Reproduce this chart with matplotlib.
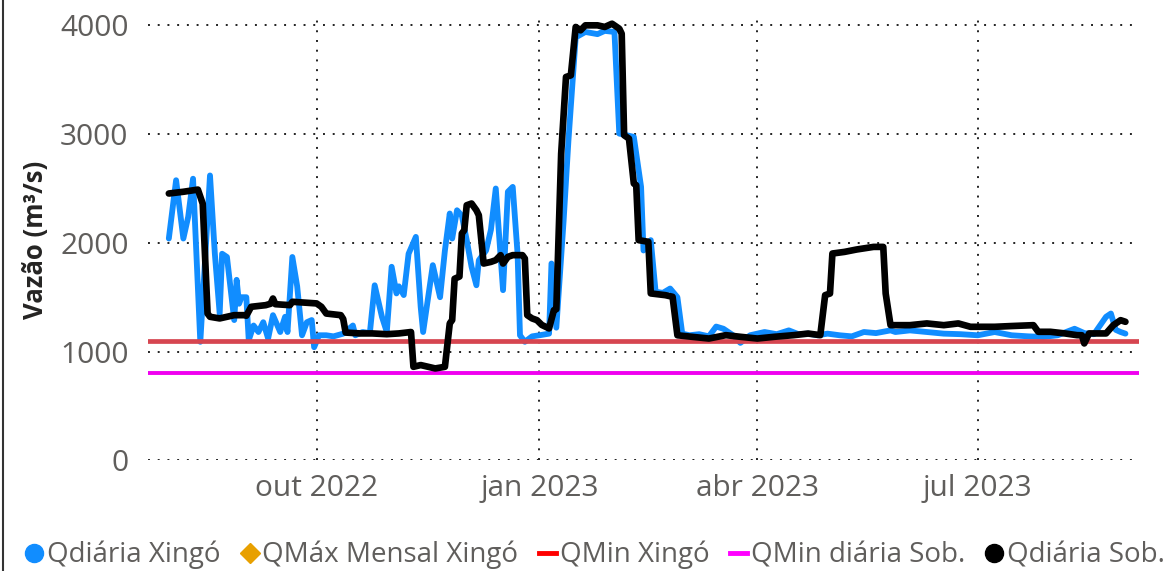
import pandas as pd
import matplotlib.pyplot as plt
from matplotlib.lines import Line2D

plt.rcParams['font.family'] = ['Open Sans', 'DejaVu Sans']

# data, days counted from 2022-08-01
start = pd.Timestamp('2022-08-01')

blue_days = [0, 3, 6, 8, 10, 13, 17, 19, 21, 22,
             24, 27, 28, 29, 30, 32, 33, 35, 37, 39,
             41, 43, 46, 48, 49, 51, 53, 55, 57, 59,
             60, 62, 65, 68, 72, 76, 77, 80, 83, 85,
             88, 90, 92, 94, 95, 97, 99, 102, 104, 105,
             109, 112, 114, 116, 117, 119, 121, 123, 125, 127,
             128, 131, 133, 135, 138, 140, 142, 144, 145, 147,
             150, 153, 157, 158, 160, 163, 165, 168, 172, 177,
             180, 184, 186, 192, 195, 196, 199, 201, 204, 207,
             210, 212, 215, 219, 223, 226, 229, 233, 236, 240,
             246, 251, 256, 260, 264, 268, 272, 277, 282, 287,
             292, 298, 300, 306, 313, 320, 327, 334, 341, 348,
             355, 361, 367, 374, 378, 382, 387, 389, 391, 393,
             395]
blue_vals = [2040, 2576, 2040, 2240, 2590, 1090, 2620, 1900, 1350, 1900,
             1870, 1290, 1660, 1440, 1500, 1500, 1105, 1240, 1180, 1270,
             1120, 1335, 1180, 1320, 1180, 1870, 1600, 1150, 1270, 1290,
             1040, 1150, 1150, 1140, 1165, 1240, 1150, 1180, 1170, 1610,
             1320, 1180, 1780, 1535, 1600, 1520, 1900, 2055, 1410, 1180,
             1795, 1500, 1930, 2270, 2040, 2300, 2250, 2025, 1780, 1610,
             1840, 1930, 2120, 2500, 1565, 2470, 2515, 1900, 1150, 1090,
             1140, 1150, 1165, 1810, 1220, 2200, 2940, 3890, 3940, 3920,
             3950, 3940, 3005, 2975, 2515, 1930, 2025, 1550, 1540, 1580,
             1500, 1165, 1150, 1160, 1140, 1230, 1210, 1150, 1080, 1150,
             1180, 1160, 1195, 1160, 1165, 1150, 1165, 1150, 1140, 1180,
             1170, 1195, 1180, 1195, 1180, 1165, 1160, 1150, 1180, 1150,
             1140, 1135, 1150, 1210, 1170, 1160, 1320, 1350, 1200, 1180,
             1165]

black_days = [0, 6, 12, 14, 16, 17, 21, 27, 31, 32,
              34, 40, 42, 43, 44, 50, 51, 61, 63, 65,
              71, 72, 73, 79, 84, 90, 95, 100, 101, 104,
              110, 114, 116, 117, 118, 120, 121, 122, 123, 125,
              127, 128, 130, 133, 135, 137, 138, 140, 142, 146,
              147, 148, 150, 152, 154, 157, 159, 160, 162, 164,
              166, 168, 170, 172, 177, 180, 183, 186, 187, 188,
              190, 192, 193, 194, 198, 199, 205, 208, 210, 216,
              223, 230, 236, 243, 250, 258, 264, 269, 271, 273,
              274, 279, 284, 291, 295, 296, 298, 306, 313, 320,
              326, 331, 341, 348, 357, 359, 364, 370, 375, 377,
              378, 380, 387, 390, 393, 395]
black_vals = [2454, 2470, 2490, 2360, 1350, 1320, 1305, 1335, 1335, 1330,
              1412, 1427, 1440, 1488, 1436, 1427, 1458, 1443, 1412, 1350,
              1335, 1300, 1175, 1167, 1167, 1160, 1167, 1180, 860, 876,
              845, 860, 1259, 1290, 1670, 1690, 2086, 2117, 2346, 2362,
              2300, 2254, 1810, 1825, 1841, 1887, 1810, 1871, 1887, 1887,
              1856, 1335, 1305, 1289, 1245, 1213, 1381, 1390, 2820, 3526,
              3541, 3986, 3955, 4001, 4001, 3986, 4016, 3970, 3924, 2990,
              2959, 2546, 2530, 2025, 2010, 1535, 1519, 1504, 1150, 1136,
              1120, 1151, 1136, 1120, 1136, 1151, 1166, 1151, 1519, 1534,
              1902, 1917, 1939, 1963, 1963, 1534, 1243, 1243, 1259, 1243,
              1259, 1228, 1228, 1235, 1243, 1182, 1182, 1167, 1151, 1150,
              1075, 1167, 1167, 1243, 1289, 1274]

qmin_xingo = 1100
qmin_diaria_sob = 800

tick_dates = ['2022-10-01', '2023-01-01', '2023-04-01', '2023-07-01']
tick_labels = ['out 2022', 'jan 2023', 'abr 2023', 'jul 2023']
series_names = ['Qdiária Xingó', 'QMáx Mensal Xingó', 'QMin Xingó',
                'QMin diária Sob.', 'Qdiária Sob.']

blue_dates = start + pd.to_timedelta(blue_days, unit='D')
black_dates = start + pd.to_timedelta(black_days, unit='D')

fig = plt.figure(figsize=(11.68, 5.71), dpi=100)
ax = fig.add_axes([148 / 1168, 1 - 460.3 / 571, 991 / 1168, 440.3 / 571])

ax.plot(blue_dates, blue_vals, color='#118DFF', lw=4.2,
        solid_joinstyle='round', solid_capstyle='round', zorder=3)
ax.axhline(qmin_xingo, color='#D64550', lw=3.4, zorder=4)
ax.axhline(qmin_diaria_sob, color='#F000F0', lw=2.8, zorder=4)
ax.plot(black_dates, black_vals, color='black', lw=4.8, clip_on=False,
        solid_joinstyle='round', solid_capstyle='round', zorder=5)

ax.set_xlim(start - pd.Timedelta(days=8.6), start + pd.Timedelta(days=400.6))
ax.set_ylim(0, 4050)
ax.set_yticks([0, 1000, 2000, 3000, 4000])
ax.set_xticks(pd.to_datetime(tick_dates))
ax.set_xticklabels(tick_labels)

ax.grid(True, color='#222222', linestyle=(0, (1, 4)), lw=1.4)
ax.set_axisbelow(True)
for s in ax.spines.values():
    s.set_visible(False)
ax.tick_params(axis='both', length=0, labelsize=21.5, labelcolor='#605E5C')
ax.tick_params(axis='y', pad=14)
ax.tick_params(axis='x', pad=10)

ax.set_ylabel('Vazão (m³/s)', fontsize=18.5, fontweight='bold',
              color='#252423', labelpad=8)

handles = [
    Line2D([], [], marker='o', color='#118DFF', ls='', markersize=13),
    Line2D([], [], marker='D', color='#E8A000', ls='', markersize=10),
    Line2D([], [], color='#FF0000', lw=3.5),
    Line2D([], [], color='#FF00FF', lw=3.5),
    Line2D([], [], marker='o', color='black', ls='', markersize=13),
]
leg = fig.legend(handles, series_names, loc='center', ncol=5,
                 bbox_to_anchor=(0.5098, 1 - 555 / 571), frameon=False,
                 fontsize=20, handlelength=0.6, handletextpad=0.15,
                 columnspacing=0.75, borderaxespad=0, borderpad=0)
for t in leg.get_texts():
    t.set_color('#605E5C')

# thin border on the left edge of the image
fig.add_artist(Line2D([2.5 / 1168, 2.5 / 1168], [0, 1], color='#333333', lw=1.5))

fig.savefig('out.png', dpi=100)
